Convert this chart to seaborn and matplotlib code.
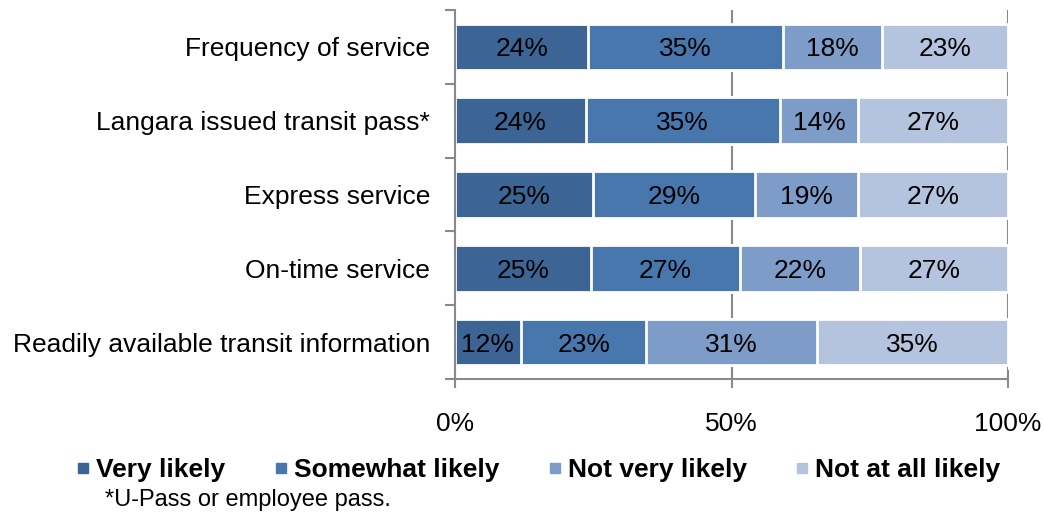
import matplotlib
matplotlib.use("Agg")
import matplotlib.pyplot as plt
from matplotlib.lines import Line2D
import numpy as np
import pandas as pd
import seaborn as sns

categories = [
    "Frequency of service",
    "Langara issued transit pass*",
    "Express service",
    "On-time service",
    "Readily available transit information",
]
series_names = ["Very likely", "Somewhat likely", "Not very likely", "Not at all likely"]
very_likely = [24.1, 23.6, 25.0, 24.6, 11.9]
somewhat_likely = [35.2, 35.2, 29.3, 26.9, 22.7]
not_very_likely = [17.9, 14.1, 18.6, 21.7, 30.8]
not_at_all_likely = [22.8, 27.1, 27.1, 26.8, 34.6]
x_ticks = [0, 50, 100]
x_tick_labels = ["0%", "50%", "100%"]
footnote = "*U-Pass or employee pass."
colors = ["#3c6595", "#4877ae", "#7e9cc8", "#b4c4df"]
axis_gray = "#8a8a8a"

sns.set_theme(style="white")
plt.rcParams["font.family"] = ["Liberation Sans", "DejaVu Sans"]
plt.rcParams["text.color"] = "black"
plt.rcParams["xtick.labelcolor"] = "black"
plt.rcParams["ytick.labelcolor"] = "black"

fig = plt.figure(figsize=(10.44, 5.15), dpi=100)
ax = fig.add_axes([455 / 1044, 1 - 379 / 515, 553 / 1044, 369 / 515])

values = np.array([very_likely, somewhat_likely, not_very_likely, not_at_all_likely])
cum = values.cumsum(axis=0)
starts = cum - values

# stacked bars: draw cumulative totals from the outermost segment inward
df = pd.DataFrame({"category": categories})
for i in reversed(range(len(series_names))):
    df["end"] = cum[i]
    sns.barplot(data=df, x="end", y="category", orient="h", color=colors[i],
                saturation=1, width=0.63, edgecolor="white", linewidth=2,
                ax=ax, zorder=2)

for i in range(len(series_names)):
    for j in range(len(categories)):
        ax.text(starts[i, j] + values[i, j] / 2, j, f"{values[i, j]:.0f}%",
                ha="center", va="center_baseline", fontsize=19, color="black", zorder=3)

for g in x_ticks[1:]:
    ax.axvline(g, color=axis_gray, lw=1.5, zorder=1)

ax.set_xlim(0, 100)
ax.set_ylim(len(categories) - 0.5, -0.5)
ax.set_xlabel("")
ax.set_ylabel("")
ax.set_xticks(x_ticks)
ax.set_xticklabels(x_tick_labels, fontsize=19)
ax.tick_params(axis="x", direction="inout", length=13, width=1.5, color=axis_gray,
               pad=17, bottom=True)
ax.tick_params(axis="y", which="major", length=0, pad=18, labelsize=19)
ax.set_yticks(np.arange(-0.5, len(categories)), minor=True)
ax.tick_params(axis="y", which="minor", direction="out", length=7, width=1.5,
               color=axis_gray, left=True)

for side in ["top", "right"]:
    ax.spines[side].set_visible(False)
for side in ["left", "bottom"]:
    ax.spines[side].set_color(axis_gray)
    ax.spines[side].set_linewidth(1.5)
    ax.spines[side].set_zorder(4)

handles = [Line2D([], [], marker="s", linestyle="none", markersize=7,
                  markerfacecolor=c, markeredgecolor=c) for c in colors]
fig.legend(handles, series_names, loc="center", bbox_to_anchor=(0.515, 1 - 470 / 515),
           ncol=4, frameon=False, prop={"weight": "bold", "size": 19},
           handlelength=0.6, handletextpad=0.2, columnspacing=1.8)

fig.text(105 / 1044, 1 - 500 / 515, footnote, fontsize=17, va="center", ha="left")

fig.savefig("out.png", dpi=100)
